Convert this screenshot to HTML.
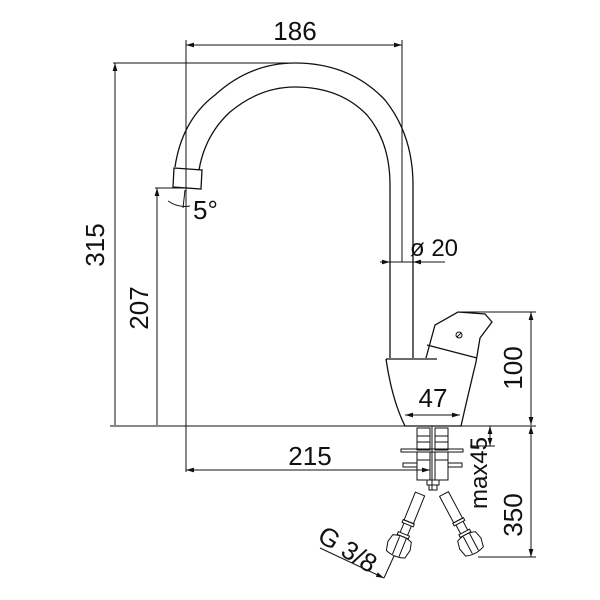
<!DOCTYPE html>
<html><head><style>body{margin:0;background:#fff}svg{display:block}text{font-family:"Liberation Sans",sans-serif;fill:#111}</style></head>
<body>
<svg width="600" height="600" viewBox="0 0 600 600" xmlns="http://www.w3.org/2000/svg">
<defs>
<marker id="a" viewBox="0 0 10 10" refX="10" refY="5" markerWidth="8" markerHeight="8" orient="auto-start-reverse" markerUnits="userSpaceOnUse"><path d="M0,2 L10,5 L0,8 z" fill="#111"/></marker>
</defs>
<g fill="none" stroke="#111" stroke-width="1">
<line x1="186" y1="45" x2="402" y2="45" marker-start="url(#a)" marker-end="url(#a)"/>
<line x1="186" y1="40" x2="186" y2="472"/>
<line x1="402" y1="40" x2="402" y2="262"/>
<line x1="113" y1="63" x2="290" y2="63"/>
<line x1="115" y1="63" x2="115" y2="425" marker-start="url(#a)"/>
<line x1="155" y1="188" x2="186" y2="188"/>
<line x1="157" y1="188" x2="157" y2="425" marker-start="url(#a)"/>
<path d="M175,167 Q182,120 215,95 Q250,63 295,63 Q350,63 385,100 Q413,135 413,185 L413,358" stroke-width="1.3"/>
<path d="M199,170 Q205,135 230,112 Q260,87 295,87 Q340,87 367,115 Q390,142 390,185 L390,358" stroke-width="1.3"/>
<path d="M174,168 L202,170 L201,189 L173,187 z" stroke-width="1.3"/>
<path d="M168,201 Q178,208 190,206" />
<line x1="185" y1="190" x2="183" y2="208"/>
<line x1="390" y1="262" x2="445" y2="262"/>
<line x1="380" y1="262" x2="390" y2="262" marker-end="url(#a)"/>
<line x1="423" y1="262" x2="413" y2="262" marker-end="url(#a)"/>
<path d="M386,359 L437,359" stroke-width="1.3"/>
<path d="M386,359 Q392,400 405,426 L461,426 Q468,395 476,362" stroke-width="1.3"/>
<path d="M426,358 L435,325 L458,312 L485,314 L492,322 L480,338 L476,362" stroke-width="1.3"/>
<path d="M427,345 L477,358" stroke-width="1.3"/>
<circle cx="459" cy="335" r="3"/>
<line x1="457" y1="337" x2="461" y2="333"/>
<line x1="460" y1="312" x2="536" y2="312"/>
<line x1="531" y1="312" x2="531" y2="425" marker-start="url(#a)" marker-end="url(#a)"/>
<line x1="110" y1="426" x2="536" y2="426"/>
<line x1="405" y1="415" x2="460" y2="415" marker-start="url(#a)" marker-end="url(#a)"/>
<rect x="417" y="428" width="13" height="22"/>
<rect x="435" y="428" width="13" height="22"/>
<line x1="417" y1="436" x2="430" y2="436"/><line x1="435" y1="436" x2="448" y2="436"/>
<line x1="417" y1="442" x2="430" y2="442"/><line x1="435" y1="442" x2="448" y2="442"/>
<rect x="401" y="449" width="62" height="3"/>
<rect x="417" y="452" width="13" height="8"/><rect x="435" y="452" width="13" height="8"/>
<rect x="403" y="463" width="14" height="4"/><rect x="448" y="463" width="14" height="4"/>
<rect x="417" y="460" width="13" height="20"/><rect x="435" y="460" width="13" height="20"/>
<rect x="427" y="480" width="12" height="5"/>
<rect x="429" y="485" width="8" height="5"/>
<line x1="432" y1="426" x2="432" y2="490"/>
<line x1="186" y1="470" x2="430" y2="470" marker-start="url(#a)" marker-end="url(#a)"/>
<line x1="470" y1="446" x2="495" y2="446"/>
<line x1="490" y1="426" x2="490" y2="446" marker-start="url(#a)" marker-end="url(#a)"/>
<line x1="531" y1="426" x2="531" y2="557" marker-start="url(#a)" marker-end="url(#a)"/>
<line x1="478" y1="557" x2="536" y2="557"/>
<g transform="translate(420,494) rotate(22)">
<rect x="-5" y="0" width="10" height="30"/>
<rect x="-6" y="30" width="12" height="3"/>
<line x1="-4" y1="33" x2="-4" y2="43"/><line x1="4" y1="33" x2="4" y2="43"/>
<rect x="-6" y="43" width="12" height="3"/>
<path d="M-10,48 Q0,44 10,48 L12,56 L10,65 Q0,69 -10,65 L-12,56 z"/>
<path d="M-3,47 L-3,66 M4,47 L4,66"/>
</g>
<g transform="translate(444,494) rotate(-28)">
<rect x="-5" y="0" width="10" height="30"/>
<rect x="-6" y="30" width="12" height="3"/>
<line x1="-4" y1="33" x2="-4" y2="43"/><line x1="4" y1="33" x2="4" y2="43"/>
<rect x="-6" y="43" width="12" height="3"/>
<path d="M-10,48 Q0,44 10,48 L12,56 L10,65 Q0,69 -10,65 L-12,56 z"/>
<path d="M-3,47 L-3,66 M4,47 L4,66"/>
</g>
<line x1="320" y1="548" x2="384" y2="578" marker-end="url(#a)"/>
<line x1="384" y1="578" x2="394" y2="556"/>
</g>
<text x="295" y="40" font-size="26" text-anchor="middle">186</text>
<text transform="translate(104,245) rotate(-90)" font-size="26" text-anchor="middle">315</text>
<text transform="translate(148,308) rotate(-90)" font-size="26" text-anchor="middle">207</text>
<text x="193" y="219" font-size="26">5°</text>
<text x="410" y="256" font-size="24">ø 20</text>
<text x="433" y="407" font-size="26" text-anchor="middle">47</text>
<text x="310" y="465" font-size="26" text-anchor="middle">215</text>
<text transform="translate(522,368) rotate(-90)" font-size="26" text-anchor="middle">100</text>
<text transform="translate(487,473) rotate(-90)" font-size="24" text-anchor="middle">max45</text>
<text transform="translate(522,515) rotate(-90)" font-size="26" text-anchor="middle">350</text>
<text transform="translate(316,540) rotate(32)" font-size="26">G 3/8</text>
</svg>
</body></html>
